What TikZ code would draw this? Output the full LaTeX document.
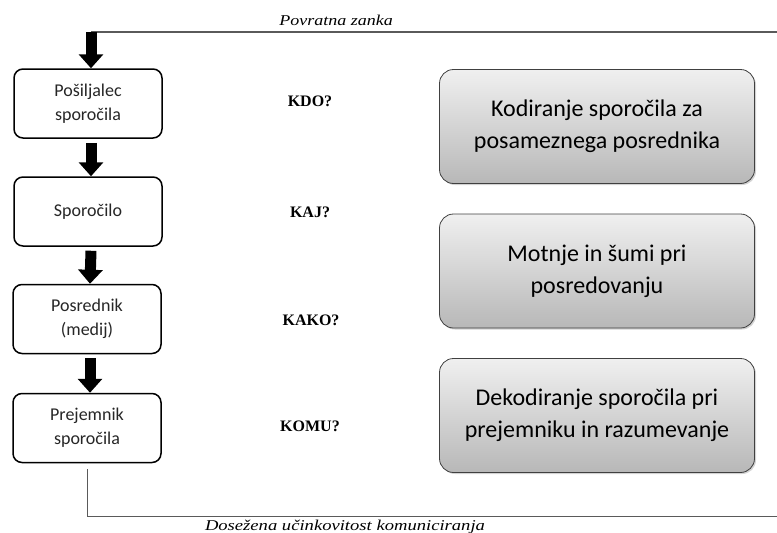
\documentclass[tikz,border=0pt]{standalone}
\usepackage{fontspec}
\usepackage{graphicx}
\setmainfont{Liberation Serif}
\newfontfamily\carlitofont{Carlito}
\usetikzlibrary{arrows.meta,shadows,calc}
\definecolor{linegray}{HTML}{5A5A5A}
\tikzset{
  leftbox/.style={draw=black, line width=1.5pt, rounded corners=9pt, minimum width=148pt, minimum height=69pt, align=center, font=\carlitofont\fontsize{18}{24}\selectfont, text=black!85},
  rightbox/.style={draw=black!75, line width=0.8pt, rounded corners=14pt, minimum width=315pt, minimum height=114pt, align=center, top color=black!6, bottom color=black!28, drop shadow={shadow xshift=1.5pt, shadow yshift=-1.5pt, opacity=0.35}, font=\carlitofont\fontsize{24}{32}\selectfont},
  bigarrow/.style={line width=11pt, -{Triangle[width=24pt,length=14pt]}},
  question/.style={font=\bfseries\fontsize{16}{18}\selectfont},
  loopline/.style={draw=linegray, line width=1.5pt},
  looplabel/.style={font=\itshape\fontsize{15}{17}\selectfont}
}
\begin{document}
\begin{tikzpicture}[x=1pt,y=-1pt]
\useasboundingbox (0,0) rectangle (777,533);
\node[leftbox] (b1) at (88,103.5) {Pošiljalec\\sporočila};
\node[leftbox] (b2) at (88,211.5) {Sporočilo};
\node[leftbox] (b3) at (87,319) {Posrednik\\(medij)};
\node[leftbox] (b4) at (87,428) {Prejemnik\\sporočila};
\node[rightbox] (r1) at (597,126.5) {Kodiranje sporočila za\\posameznega posrednika};
\node[rightbox] (r2) at (597,271) {Motnje in šumi pri\\posredovanju};
\node[rightbox] (r3) at (597,415.5) {Dekodiranje sporočila pri\\prejemniku in razumevanje};
\node[question] (q1) at (310,101) {KDO?};
\node[question] (q2) at (310,212) {KAJ?};
\node[question] (q3) at (311,320) {KAKO?};
\node[question] (q4) at (310,426) {KOMU?};
\coordinate (tl) at (91,32);
\coordinate (tr) at (777,32);
\coordinate (bl) at (87,516);
\coordinate (br) at (777,516);
\node[looplabel, anchor=base] (top) at (336,25) {\scalebox{1.2}[1]{Povratna zanka}};
\node[looplabel, anchor=base] (bot) at (345,530) {\scalebox{1.24}[1]{Dosežena učinkovitost komuniciranja}};
\draw[loopline] (tl) -- (tr);
\draw[bigarrow] (tl) -- ([xshift=3pt]b1.north);
\draw[bigarrow] ([xshift=3pt,yshift=-4pt]b1.south) -- ([xshift=3pt]b2.north);
\draw[bigarrow] ([xshift=3pt,yshift=-4pt]b2.south) -- ([xshift=3pt]b3.north);
\draw[bigarrow] ([xshift=3pt,yshift=-4pt]b3.south) -- ([xshift=3pt]b4.north);
\draw[loopline, line width=1pt] ([yshift=-6pt]b4.south) -- (bl) -- (br);
\end{tikzpicture}
\end{document}
